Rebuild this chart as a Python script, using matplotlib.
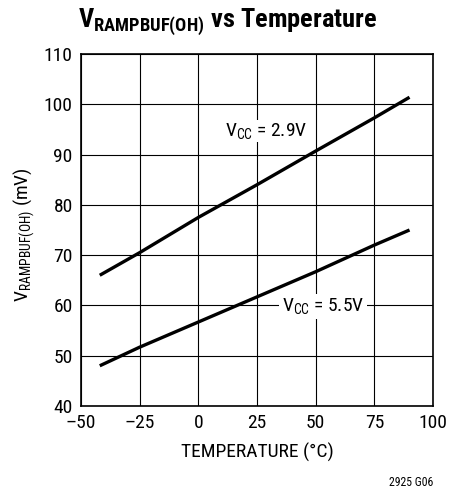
import matplotlib
matplotlib.use('Agg')
import matplotlib.pyplot as plt

# Données
temperature = [-42, -25, 0, 25, 50, 75, 90]
v_29 = [66.0, 70.5, 77.5, 84.0, 90.7, 97.3, 101.4]
v_55 = [48.0, 51.7, 56.7, 61.7, 66.7, 72.0, 75.0]
xticks = [-50, -25, 0, 25, 50, 75, 100]
yticks = [40, 50, 60, 70, 80, 90, 100, 110]

police = 'Roboto Condensed'
plt.rcParams['font.family'] = [police, 'DejaVu Sans']
plt.rcParams['mathtext.fontset'] = 'custom'
plt.rcParams['mathtext.rm'] = police
plt.rcParams['mathtext.it'] = police
plt.rcParams['mathtext.bf'] = police + ':bold'

fig = plt.figure(figsize=(4.63, 4.92), dpi=100)
ax = fig.add_axes([81 / 463, 1 - 406 / 492, 352 / 463, 352 / 492])

ax.plot(temperature, v_29, color='black', lw=2.4, solid_capstyle='butt')
ax.plot(temperature, v_55, color='black', lw=2.4, solid_capstyle='butt')

ax.set_xlim(-50, 100)
ax.set_ylim(40, 110)
ax.set_xticks(xticks)
ax.set_yticks(yticks)
ax.set_xticklabels([str(t).replace('-', '\u2013') for t in xticks])
ax.tick_params(length=0, labelsize=14, pad=6)
ax.grid(True, color='black', lw=0.8)
for s in ax.spines.values():
    s.set_linewidth(1.2)

ax.text(29, 94.7, r'V$_{\mathrm{CC}}$ = 2.9V', fontsize=14, ha='center', va='center',
        bbox=dict(facecolor='white', edgecolor='none', pad=1))
ax.text(53, 59.8, r'V$_{\mathrm{CC}}$ = 5.5V', fontsize=14, ha='center', va='center',
        bbox=dict(facecolor='white', edgecolor='none', pad=2))

ax.set_xlabel('TEMPERATURE (°C)', fontsize=14)
ax.set_ylabel(r'V$_{\mathrm{RAMPBUF(OH)}}$ (mV)', fontsize=14)
ax.xaxis.set_label_coords(0.5, -(452 - 406) / 352)
ax.yaxis.set_label_coords(-(81 - 24) / 352, (406 - 235) / 352)
ax.xaxis.label.set_va('center')
ax.yaxis.label.set_va('center')

fig.text(228 / 463, 1 - 22 / 492, r'$\mathbf{V}_{\mathbf{RAMPBUF(OH)}}$ vs Temperature',
         fontsize=19, fontweight='bold', ha='center', va='center')
fig.text(433 / 463, 1 - 483 / 492, '2925 G06', fontsize=8.5, ha='right', va='center')

fig.savefig('out.png', dpi=100)
